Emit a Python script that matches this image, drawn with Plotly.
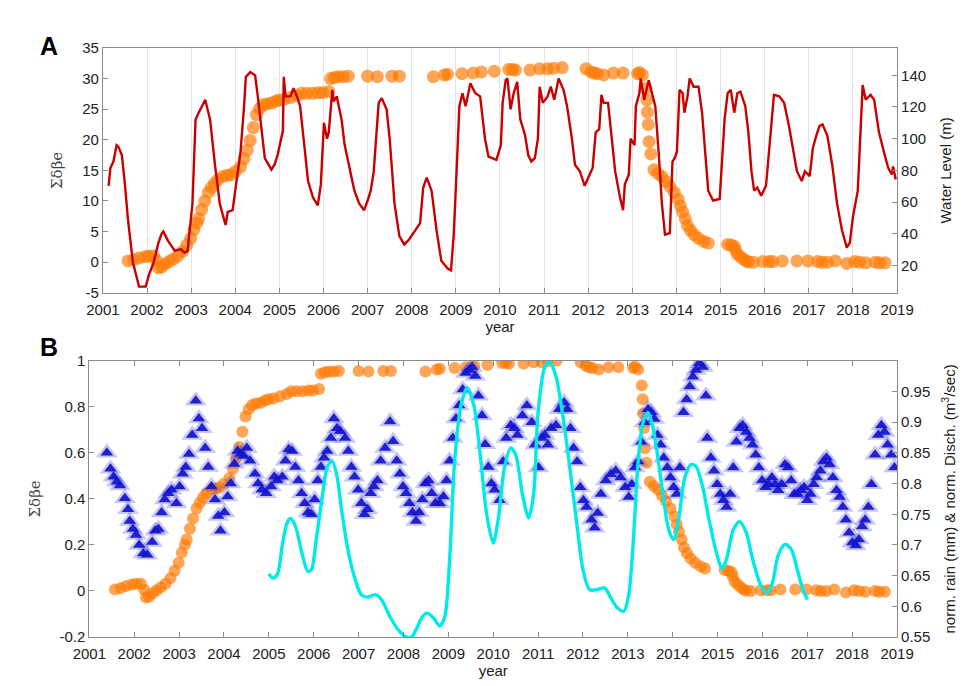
import numpy as np
import plotly.graph_objects as go

# ---------------- Panel A: water level (m) ----------------
wl_year = [2001.13, 2001.17, 2001.24, 2001.31, 2001.35, 2001.43, 2001.50, 2001.57, 2001.68, 2001.82,
           2001.97, 2002.04, 2002.15, 2002.26, 2002.33, 2002.37, 2002.48, 2002.63, 2002.77, 2002.85,
           2002.92, 2003.03, 2003.10, 2003.17, 2003.32, 2003.43, 2003.54, 2003.65, 2003.78, 2003.83,
           2003.94, 2004.05, 2004.12, 2004.20, 2004.24, 2004.34, 2004.45, 2004.52, 2004.60, 2004.67,
           2004.82, 2004.89, 2004.96, 2005.04, 2005.08, 2005.10, 2005.14, 2005.25, 2005.32, 2005.40,
           2005.47, 2005.58, 2005.65, 2005.76, 2005.87, 2005.94, 2006.01, 2006.08, 2006.12, 2006.20,
           2006.23, 2006.30, 2006.41, 2006.48, 2006.59, 2006.70, 2006.81, 2006.92, 2007.00, 2007.07,
           2007.14, 2007.25, 2007.32, 2007.43, 2007.50, 2007.61, 2007.72, 2007.83, 2007.94, 2008.08,
           2008.19, 2008.26, 2008.34, 2008.45, 2008.56, 2008.67, 2008.82, 2008.89, 2008.95, 2009.00,
           2009.08, 2009.15, 2009.22, 2009.33, 2009.44, 2009.55, 2009.66, 2009.74, 2009.92, 2010.02,
           2010.06, 2010.13, 2010.17, 2010.24, 2010.31, 2010.39, 2010.46, 2010.57, 2010.64, 2010.71,
           2010.79, 2010.86, 2010.90, 2010.97, 2011.08, 2011.15, 2011.23, 2011.33, 2011.44, 2011.52,
           2011.63, 2011.70, 2011.81, 2011.92, 2012.03, 2012.10, 2012.17, 2012.25, 2012.30, 2012.35,
           2012.45, 2012.54, 2012.61, 2012.72, 2012.79, 2012.83, 2012.92, 2012.96, 2013.05, 2013.08,
           2013.16, 2013.19, 2013.27, 2013.37, 2013.45, 2013.52, 2013.60, 2013.67, 2013.74, 2013.85,
           2013.91, 2013.96, 2014.01, 2014.07, 2014.14, 2014.18, 2014.25, 2014.30, 2014.39, 2014.50,
           2014.58, 2014.65, 2014.72, 2014.83, 2014.98, 2015.09, 2015.16, 2015.23, 2015.31, 2015.38,
           2015.45, 2015.56, 2015.63, 2015.70, 2015.76, 2015.83, 2015.92, 2016.03, 2016.14, 2016.21,
           2016.33, 2016.44, 2016.55, 2016.66, 2016.73, 2016.84, 2016.91, 2017.02, 2017.09, 2017.17,
           2017.24, 2017.31, 2017.42, 2017.53, 2017.64, 2017.75, 2017.86, 2017.93, 2018.00, 2018.11,
           2018.19, 2018.22, 2018.29, 2018.40, 2018.48, 2018.59, 2018.70, 2018.80, 2018.88, 2018.91,
           2018.97]
wl_level = [70.3, 81.5, 85.6, 95.9, 95.0, 89.7, 71.0, 48.7, 22.0, 6.7,
            6.7, 13.8, 22.0, 34.4, 40.0, 41.5, 35.4, 29.2, 30.3, 28.0,
            29.2, 59.0, 112.0, 116.4, 124.6, 112.0, 83.6, 59.0, 45.6, 53.8,
            54.9, 79.5, 91.8, 120.5, 139.0, 142.0, 140.0, 124.6, 104.0, 87.7,
            80.5, 83.6, 89.7, 100.0, 105.0, 139.0, 126.7, 126.7, 131.8, 126.7,
            120.5, 91.8, 73.3, 63.0, 58.0, 71.0, 110.0, 100.0, 104.0, 130.8,
            123.6, 126.7, 112.0, 96.0, 81.5, 67.2, 59.0, 54.9, 61.0, 67.2,
            79.5, 122.6, 125.6, 118.5, 100.0, 59.0, 38.5, 33.3, 36.4, 42.6,
            46.7, 69.2, 75.4, 67.2, 42.6, 23.0, 18.0, 17.0, 38.5, 69.0,
            120.5, 128.7, 120.5, 135.0, 128.7, 126.7, 100.0, 88.7, 86.7, 95.9,
            122.6, 136.9, 138.0, 118.5, 128.7, 135.9, 112.3, 102.0, 89.7, 85.6,
            87.7, 100.0, 132.8, 122.6, 126.7, 132.8, 124.6, 138.0, 130.8, 120.5,
            100.0, 83.6, 79.5, 70.3, 77.4, 81.5, 104.0, 106.0, 127.7, 122.6,
            122.6, 95.9, 79.5, 63.0, 54.9, 71.3, 77.4, 100.0, 95.9, 120.5,
            128.7, 138.0, 124.6, 136.9, 128.7, 120.5, 89.7, 59.0, 39.5, 40.5,
            85.6, 87.7, 91.8, 130.8, 128.7, 116.4, 126.7, 138.0, 132.8, 132.8,
            116.4, 89.7, 67.2, 61.0, 62.0, 112.0, 128.7, 130.8, 116.4, 128.7,
            129.7, 120.5, 104.0, 79.5, 67.2, 69.2, 64.1, 70.3, 104.0, 127.7,
            126.7, 122.6, 108.0, 91.8, 79.5, 73.3, 79.5, 76.4, 93.8, 102.0,
            108.0, 109.0, 102.0, 83.6, 59.0, 42.6, 31.3, 34.4, 50.8, 67.2,
            120.5, 133.8, 124.6, 127.7, 124.6, 104.0, 91.8, 81.5, 77.4, 82.5,
            74.3]

# ---------------- Cumulative sum of delta-beta-e ----------------
sde_year = [2001.57, 2001.70, 2001.82, 2001.95, 2002.04, 2002.15, 2002.22, 2002.26, 2002.33, 2002.41,
            2002.50, 2002.59, 2002.70, 2002.81, 2002.90, 2002.99, 2003.06, 2003.13, 2003.17, 2003.24,
            2003.31, 2003.39, 2003.46, 2003.53, 2003.61, 2003.72, 2003.82, 2003.90, 2004.00, 2004.12,
            2004.20, 2004.27, 2004.34, 2004.41, 2004.48, 2004.55, 2004.63, 2004.72, 2004.82, 2004.92,
            2004.99, 2005.10, 2005.25, 2005.40, 2005.50, 2005.62, 2005.75, 2005.88, 2005.98, 2006.12,
            2006.16, 2006.25, 2006.34, 2006.45, 2006.56, 2007.00, 2007.22, 2007.55, 2007.72, 2008.49,
            2008.74, 2008.81, 2009.14, 2009.39, 2009.58, 2009.87, 2010.20, 2010.28, 2010.35, 2010.68,
            2010.90, 2011.08, 2011.22, 2011.41, 2011.95, 2012.06, 2012.14, 2012.21, 2012.35, 2012.57,
            2012.79, 2013.12, 2013.16, 2013.23, 2013.31, 2013.33, 2013.34, 2013.36, 2013.38, 2013.42,
            2013.49, 2013.58, 2013.67, 2013.76, 2013.85, 2013.95, 2014.04, 2014.09, 2014.14, 2014.20,
            2014.25, 2014.32, 2014.40, 2014.50, 2014.62, 2014.72, 2015.16, 2015.24, 2015.31, 2015.34,
            2015.38, 2015.45, 2015.52, 2015.58, 2015.63, 2015.74, 2015.96, 2016.10, 2016.18, 2016.40,
            2016.73, 2016.98, 2017.20, 2017.30, 2017.42, 2017.60, 2017.86, 2018.04, 2018.15, 2018.29,
            2018.51, 2018.60, 2018.73]
sde_value = [0.2, 0.4, 0.7, 0.9, 1.0, 1.0, 0.2, -0.9, -0.8, -0.3,
             0.1, 0.5, 1.0, 1.8, 2.8, 3.9, 5.3, 6.4, 7.1, 8.6,
             10.0, 11.4, 12.2, 12.9, 13.5, 14.0, 14.2, 14.3, 14.8, 15.6,
             16.9, 18.3, 19.9, 22.0, 24.1, 25.1, 25.7, 25.9, 26.0, 26.3,
             26.5, 26.6, 26.9, 27.2, 27.6, 27.6, 27.6, 27.7, 27.7, 27.9,
             30.0, 30.2, 30.3, 30.3, 30.4, 30.4, 30.3, 30.4, 30.4, 30.3,
             30.6, 30.7, 30.8, 30.9, 31.1, 31.2, 31.5, 31.5, 31.4, 31.4,
             31.6, 31.6, 31.7, 31.8, 31.6, 31.1, 30.9, 30.8, 30.6, 30.9,
             30.9, 30.8, 31.0, 30.6, 28.4, 26.5, 24.5, 22.5, 19.7, 17.7,
             15.1, 14.5, 14.0, 13.2, 12.4, 11.4, 10.3, 9.2, 8.2, 7.1,
             6.0, 5.2, 4.5, 3.9, 3.4, 3.1, 2.9, 2.8, 2.6, 2.0,
             1.3, 0.9, 0.5, 0.2, 0.05, 0.0, 0.1, 0.1, 0.1, 0.2,
             0.2, 0.2, 0.1, 0.0, 0.0, 0.2, -0.2, 0.1, 0.0, -0.1,
             0.0, -0.1, -0.1]

# ---------------- Panel B: normalised discharge ----------------
disch_year = [2001.39, 2001.47, 2001.54, 2001.61, 2001.68, 2001.79, 2001.86, 2001.90, 2001.97, 2002.04,
              2002.11, 2002.20, 2002.29, 2002.40, 2002.47, 2002.54, 2002.61, 2002.68, 2002.76, 2002.83,
              2002.94, 2003.01, 2003.08, 2003.15, 2003.22, 2003.29, 2003.37, 2003.44, 2003.51, 2003.58,
              2003.65, 2003.72, 2003.80, 2003.87, 2003.92, 2004.01, 2004.08, 2004.15, 2004.23, 2004.30,
              2004.37, 2004.44, 2004.51, 2004.58, 2004.69, 2004.76, 2004.84, 2004.94, 2005.05, 2005.12,
              2005.19, 2005.30, 2005.37, 2005.44, 2005.52, 2005.59, 2005.66, 2005.73, 2005.80, 2005.87,
              2005.95, 2006.02, 2006.09, 2006.16, 2006.23, 2006.30, 2006.38, 2006.45, 2006.52, 2006.59,
              2006.70, 2006.77, 2006.84, 2006.91, 2006.99, 2007.06, 2007.13, 2007.20, 2007.27, 2007.34,
              2007.42, 2007.49, 2007.59, 2007.70, 2007.77, 2007.85, 2007.92, 2007.99, 2008.06, 2008.13,
              2008.20, 2008.28, 2008.35, 2008.42, 2008.49, 2008.56, 2008.63, 2008.71, 2008.81, 2008.89,
              2008.96, 2009.03, 2009.10, 2009.17, 2009.24, 2009.32, 2009.39, 2009.46, 2009.53, 2009.60,
              2009.67, 2009.75, 2009.82, 2009.89, 2009.96, 2010.03, 2010.14, 2010.22, 2010.29, 2010.39,
              2010.47, 2010.54, 2010.65, 2010.75, 2010.86, 2010.93, 2011.01, 2011.08, 2011.15, 2011.22,
              2011.29, 2011.40, 2011.47, 2011.58, 2011.65, 2011.72, 2011.79, 2011.87, 2011.94, 2012.01,
              2012.08, 2012.19, 2012.26, 2012.33, 2012.40, 2012.51, 2012.62, 2012.73, 2012.84, 2012.94,
              2013.02, 2013.09, 2013.16, 2013.23, 2013.30, 2013.37, 2013.45, 2013.52, 2013.59, 2013.66,
              2013.73, 2013.80, 2013.88, 2013.95, 2014.02, 2014.09, 2014.16, 2014.24, 2014.31, 2014.38,
              2014.45, 2014.52, 2014.59, 2014.67, 2014.74, 2014.77, 2014.85, 2014.92, 2014.99, 2015.06,
              2015.13, 2015.20, 2015.28, 2015.35, 2015.42, 2015.49, 2015.56, 2015.64, 2015.71, 2015.78,
              2015.85, 2015.92, 2015.99, 2016.07, 2016.14, 2016.21, 2016.28, 2016.35, 2016.43, 2016.50,
              2016.57, 2016.64, 2016.71, 2016.78, 2016.86, 2016.93, 2017.00, 2017.07, 2017.14, 2017.21,
              2017.29, 2017.36, 2017.43, 2017.50, 2017.57, 2017.65, 2017.72, 2017.79, 2017.86, 2017.93,
              2018.00, 2018.08, 2018.15, 2018.22, 2018.29, 2018.36, 2018.43, 2018.51, 2018.58, 2018.65,
              2018.72, 2018.79, 2018.87, 2018.94]
disch_value = [0.850, 0.824, 0.811, 0.803, 0.797, 0.776, 0.758, 0.739, 0.726, 0.716,
               0.700, 0.686, 0.684, 0.705, 0.723, 0.726, 0.753, 0.774, 0.784, 0.790,
               0.768, 0.795, 0.816, 0.827, 0.848, 0.879, 0.935, 0.906, 0.890, 0.858,
               0.827, 0.795, 0.774, 0.747, 0.723, 0.753, 0.779, 0.800, 0.832, 0.853,
               0.848, 0.845, 0.858, 0.837, 0.816, 0.800, 0.790, 0.784, 0.795, 0.811,
               0.805, 0.811, 0.837, 0.856, 0.853, 0.827, 0.805, 0.784, 0.768, 0.753,
               0.750, 0.774, 0.805, 0.827, 0.842, 0.853, 0.874, 0.906, 0.890, 0.885,
               0.874, 0.853, 0.827, 0.811, 0.790, 0.768, 0.750, 0.758, 0.784, 0.795,
               0.805, 0.837, 0.858, 0.901, 0.869, 0.837, 0.816, 0.795, 0.784, 0.768,
               0.753, 0.739, 0.753, 0.774, 0.800, 0.805, 0.784, 0.768, 0.768, 0.779,
               0.805, 0.837, 0.874, 0.906, 0.927, 0.953, 0.980, 0.985, 0.990, 0.975,
               0.943, 0.911, 0.864, 0.827, 0.800, 0.790, 0.773, 0.836, 0.874, 0.895,
               0.890, 0.879, 0.911, 0.927, 0.900, 0.863, 0.826, 0.874, 0.879, 0.863,
               0.890, 0.895, 0.921, 0.932, 0.921, 0.890, 0.858, 0.836, 0.794, 0.773,
               0.762, 0.741, 0.728, 0.752, 0.783, 0.805, 0.815, 0.821, 0.810, 0.794,
               0.778, 0.799, 0.826, 0.836, 0.868, 0.900, 0.921, 0.916, 0.905, 0.879,
               0.863, 0.842, 0.826, 0.810, 0.794, 0.783, 0.826, 0.916, 0.937, 0.958,
               0.974, 0.985, 0.996, 0.990, 0.943, 0.874, 0.842, 0.821, 0.799, 0.783,
               0.773, 0.762, 0.783, 0.826, 0.868, 0.890, 0.895, 0.884, 0.874, 0.863,
               0.847, 0.826, 0.805, 0.794, 0.799, 0.810, 0.799, 0.789, 0.799, 0.831,
               0.826, 0.805, 0.783, 0.783, 0.789, 0.794, 0.773, 0.783, 0.799, 0.810,
               0.821, 0.836, 0.842, 0.831, 0.810, 0.789, 0.778, 0.762, 0.741, 0.720,
               0.704, 0.699, 0.709, 0.730, 0.741, 0.762, 0.799, 0.847, 0.879, 0.895,
               0.884, 0.863, 0.847, 0.826]

# ---------------- Panel B: normalised rainfall ----------------
rain_year = [2005.00, 2005.09, 2005.19, 2005.30, 2005.41, 2005.48, 2005.59, 2005.73, 2005.87, 2005.95,
             2006.05, 2006.20, 2006.30, 2006.41, 2006.52, 2006.63, 2006.77, 2006.91, 2007.06, 2007.20,
             2007.38, 2007.52, 2007.70, 2007.88, 2008.06, 2008.17, 2008.28, 2008.42, 2008.53, 2008.67,
             2008.81, 2008.92, 2009.03, 2009.14, 2009.28, 2009.42, 2009.57, 2009.71, 2009.85, 2010.00,
             2010.11, 2010.25, 2010.39, 2010.50, 2010.65, 2010.79, 2010.90, 2011.00, 2011.15, 2011.26,
             2011.40, 2011.54, 2011.69, 2011.87, 2012.01, 2012.15, 2012.30, 2012.48, 2012.62, 2012.76,
             2012.91, 2013.02, 2013.12, 2013.23, 2013.34, 2013.45, 2013.55, 2013.66, 2013.80, 2013.91,
             2014.02, 2014.13, 2014.27, 2014.41, 2014.52, 2014.67, 2014.81, 2014.99, 2015.10, 2015.20,
             2015.35, 2015.49, 2015.64, 2015.78, 2015.96, 2016.10, 2016.21, 2016.35, 2016.50, 2016.64,
             2016.78, 2016.89, 2017.00]
rain_value = [0.653, 0.646, 0.652, 0.700, 0.737, 0.743, 0.731, 0.689, 0.657, 0.660,
              0.705, 0.784, 0.827, 0.837, 0.811, 0.752, 0.689, 0.647, 0.619, 0.615,
              0.619, 0.610, 0.583, 0.562, 0.550, 0.549, 0.562, 0.583, 0.589, 0.581,
              0.568, 0.583, 0.678, 0.837, 0.927, 0.956, 0.927, 0.847, 0.752, 0.703,
              0.741, 0.826, 0.858, 0.847, 0.783, 0.744, 0.783, 0.916, 0.990, 0.998,
              0.974, 0.916, 0.836, 0.730, 0.656, 0.627, 0.627, 0.630, 0.614, 0.598,
              0.592, 0.619, 0.704, 0.836, 0.900, 0.916, 0.895, 0.847, 0.773, 0.725,
              0.709, 0.741, 0.810, 0.831, 0.828, 0.794, 0.741, 0.683, 0.661, 0.677,
              0.725, 0.738, 0.720, 0.677, 0.635, 0.622, 0.635, 0.683, 0.701, 0.693,
              0.659, 0.630, 0.611]

years = list(range(2001, 2020))
sde_ticks_a = list(range(-5, 40, 5))
wl_ticks = list(range(20, 160, 20))
sde_ticks_b = [-0.2, 0.0, 0.2, 0.4, 0.6, 0.8, 1.0]
norm_ticks = [0.55, 0.6, 0.65, 0.7, 0.75, 0.8, 0.85, 0.9, 0.95]

# normalised cumulative curve for panel B
sde_norm = (np.array(sde_value) / np.max(sde_value)).tolist()

ORANGE = "rgba(255,122,5,0.68)"
RED = "#C80000"
BLUE = "rgba(18,18,205,0.92)"
BLUE_HALO = "rgba(70,70,225,0.30)"
CYAN = "#00EAEA"
AXIS = "#8a8a8a"
TXT = "#222222"
FONT = "Liberation Sans, Arial, sans-serif"

fig = go.Figure()

# Panel A
fig.add_trace(go.Scatter(x=sde_year, y=sde_value, mode="markers", xaxis="x", yaxis="y",
                         marker=dict(size=13, color=ORANGE, line=dict(width=0)), showlegend=False))
fig.add_trace(go.Scatter(x=wl_year, y=wl_level, mode="lines", xaxis="x", yaxis="y2",
                         line=dict(color=RED, width=2.4), showlegend=False))

# Panel B
fig.add_trace(go.Scatter(x=sde_year, y=sde_norm, mode="markers", xaxis="x2", yaxis="y3",
                         marker=dict(size=12, color=ORANGE, line=dict(width=0)), showlegend=False))
# faint wide triangles behind the discharge markers give the band its soft edge
fig.add_trace(go.Scatter(x=disch_year, y=disch_value, mode="markers", xaxis="x2", yaxis="y4",
                         marker=dict(symbol="triangle-up", size=19, color=BLUE_HALO, line=dict(width=0)),
                         showlegend=False, hoverinfo="skip"))
fig.add_trace(go.Scatter(x=disch_year, y=disch_value, mode="markers", xaxis="x2", yaxis="y4",
                         marker=dict(symbol="triangle-up", size=11, color=BLUE, line=dict(width=0)),
                         showlegend=False))
fig.add_trace(go.Scatter(x=rain_year, y=rain_value, mode="lines", xaxis="x2", yaxis="y4",
                         line=dict(color=CYAN, width=3.4, shape="spline", smoothing=0.8),
                         showlegend=False))

W, H = 971, 686
common_ax = dict(ticks="inside", ticklen=5, tickcolor=AXIS, showline=True, linecolor=AXIS,
                 linewidth=1, zeroline=False, tickfont=dict(family=FONT, size=15, color=TXT))
sigma_title = dict(text="Σδβe", font=dict(family="DejaVu Serif, serif", size=15, color="#444444"))


def fmt(v):
    return "%g" % v


fig.update_layout(
    width=W, height=H, autosize=False,
    margin=dict(l=0, r=0, t=0, b=0),
    paper_bgcolor="white", plot_bgcolor="white",
    xaxis=dict(domain=[89 / W, 912 / W], anchor="y", range=[2001, 2019], tickvals=years,
               showgrid=True, gridcolor="#e4e4e4", gridwidth=1, mirror=True, ticklabelstandoff=3,
               title=dict(text="year", font=dict(family=FONT, size=15, color=TXT), standoff=2),
               **common_ax),
    yaxis=dict(domain=[1 - 291 / H, 1 - 40 / H], anchor="x", range=[-5, 35],
               tickvals=sde_ticks_a, ticktext=[fmt(v) for v in sde_ticks_a],
               showgrid=False, title=sigma_title, **common_ax),
    yaxis2=dict(overlaying="y", side="right", anchor="x", range=[2.8, 157.2],
                tickvals=wl_ticks, ticktext=[fmt(v) for v in wl_ticks], showgrid=False,
                title=dict(text="Water Level (m)", font=dict(family=FONT, size=15, color=TXT)),
                **common_ax),
    xaxis2=dict(domain=[75 / W, 912 / W], anchor="y3", range=[2001, 2019], tickvals=years,
                showgrid=False, mirror="ticks", ticklabelstandoff=3,
                title=dict(text="year", font=dict(family=FONT, size=15, color=TXT), standoff=2),
                **common_ax),
    yaxis3=dict(domain=[1 - 644 / H, 1 - 360.7 / H], anchor="x2", range=[-0.2, 1.0],
                tickvals=sde_ticks_b, ticktext=[fmt(v) for v in sde_ticks_b],
                showgrid=False, title=sigma_title, **common_ax),
    yaxis4=dict(overlaying="y3", side="right", anchor="x2", range=[0.55, 1.0],
                tickvals=norm_ticks, ticktext=[fmt(v) for v in norm_ticks], showgrid=False,
                title=dict(text="norm. rain (mm) & norm. Disch. (m<sup>3</sup>/sec)",
                           font=dict(family=FONT, size=15, color=TXT)),
                **common_ax),
    annotations=[
        dict(text="<b>A</b>", x=22 / W, y=1 - 22 / H, xref="paper", yref="paper",
             showarrow=False, font=dict(family=FONT, size=25, color="black")),
        dict(text="<b>B</b>", x=22 / W, y=1 - 347 / H, xref="paper", yref="paper",
             showarrow=False, font=dict(family=FONT, size=25, color="black")),
    ],
)

fig.write_html("out.html")
